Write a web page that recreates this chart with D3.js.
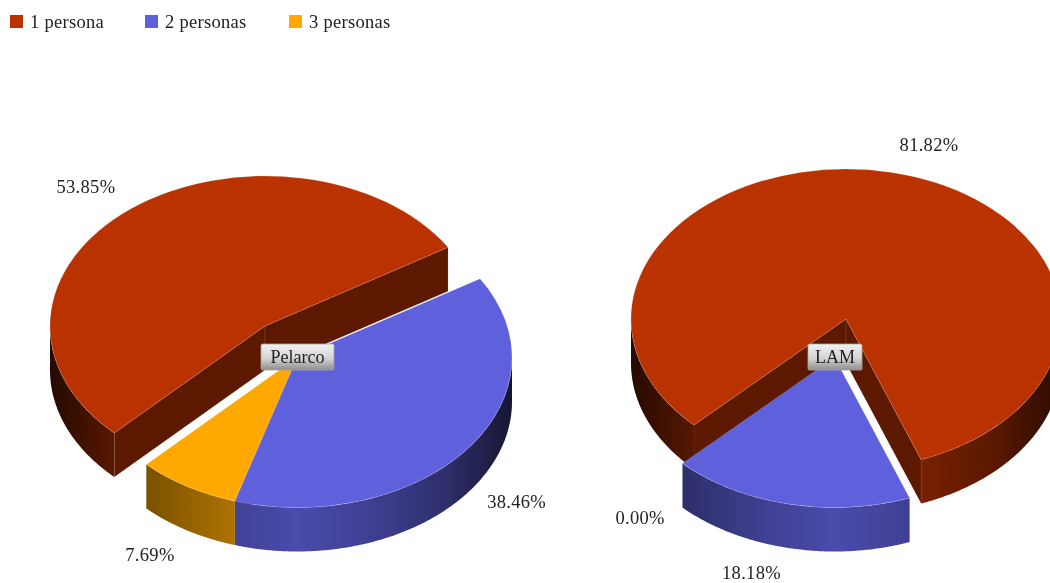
<!DOCTYPE html>
<html>
<head>
<meta charset="utf-8">
<script src="https://cdnjs.cloudflare.com/ajax/libs/d3/7.8.5/d3.min.js"></script>
<style>
html,body{margin:0;padding:0;background:#fff;overflow:hidden}
svg{display:block;filter:blur(0.35px)}
text{font-family:"Liberation Serif",serif;fill:#222}
</style>
</head>
<body>
<svg id="c" width="1050" height="583"></svg>
<script>
// data
const categories = ["1 persona", "2 personas", "3 personas"];
const pieNames = ["Pelarco", "LAM"];
const pelarcoValues = [53.85, 38.46, 7.69];
const lamValues = [81.82, 18.18, 0.00];
const colors = ["#b93200", "#5f60dc", "#ffa800"];

// layout
const W = 1050, H = 583, RX = 215, RY = 150, DEPTH = 44;
const pies = [
  {name: pieNames[0], values: pelarcoValues, start: -135.5, main: [265, 326], exploded: [297, 357.5], tagW: 73, tagX: 297.5},
  {name: pieNames[1], values: lamValues, start: -135, main: [846, 319], exploded: [834.5, 357.5], tagW: 54, tagX: 835}
];

const svg = d3.select("#c");
const defs = svg.append("defs");
const TAU = Math.PI * 2;

const topArc = d3.arc().innerRadius(0).outerRadius(RX);
const line = d3.line();

// ellipse coordinates from a clockwise-from-top angle
const px = (c, a) => c[0] + RX * Math.sin(a);
const py = (c, a) => c[1] - RY * Math.cos(a);

function shade(col, k) {
  const c = d3.rgb(col);
  return d3.rgb(c.r * k, c.g * k, c.b * k).formatHex();
}
const wallStops = [[0, .2], [.15, .48], [.35, .68], [.5, .78], [.65, .68], [.85, .48], [.97, .28], [1, .22]];

const tagGrad = defs.append("linearGradient").attr("id", "tagGrad").attr("x1", 0).attr("y1", 0).attr("x2", 0).attr("y2", 1);
tagGrad.append("stop").attr("offset", 0).attr("stop-color", "#f2f2f2");
tagGrad.append("stop").attr("offset", .55).attr("stop-color", "#d4d4d4");
tagGrad.append("stop").attr("offset", 1).attr("stop-color", "#8e8e8e");

pies.forEach((p, pi) => {
  const s0 = p.start * Math.PI / 180;
  const pieGen = d3.pie().sort(null).value(d => d).startAngle(s0).endAngle(s0 + TAU);
  const arcs = pieGen(p.values).map((d, i) => ({...d, i, c: i === 0 ? p.main : p.exploded}));
  const visible = arcs.filter(d => d.value > 0);
  const g = svg.append("g");

  // gradient for each colour, spanning the pie width
  arcs.forEach(d => {
    const gr = defs.append("linearGradient").attr("id", `w${pi}_${d.i}`)
      .attr("gradientUnits", "userSpaceOnUse")
      .attr("x1", d.c[0] - RX).attr("x2", d.c[0] + RX).attr("y1", 0).attr("y2", 0);
    wallStops.forEach(s => gr.append("stop").attr("offset", s[0]).attr("stop-color", shade(colors[d.i], s[1])));
  });

  // radial cut walls
  visible.forEach(d => {
    [[d.startAngle, Math.sin(d.startAngle) < 0], [d.endAngle, Math.sin(d.endAngle) > 0]].forEach(([a, show]) => {
      if (!show) return;
      g.append("path")
        .attr("d", line([d.c, [px(d.c, a), py(d.c, a)], [px(d.c, a), py(d.c, a) + DEPTH], [d.c[0], d.c[1] + DEPTH]]) + "Z")
        .attr("fill", shade(colors[d.i], .5))
        .attr("stroke", "rgba(255,255,255,.14)").attr("stroke-width", .7);
    });
  });

  // outer walls, only the front half of the rim
  visible.forEach(d => {
    [Math.PI / 2, Math.PI / 2 + TAU, Math.PI / 2 - TAU].forEach(lo => {
      const a0 = Math.max(d.startAngle, lo), a1 = Math.min(d.endAngle, lo + Math.PI);
      if (a1 <= a0) return;
      const n = Math.ceil((a1 - a0) / 0.01);
      const angs = d3.range(n + 1).map(k => a0 + (a1 - a0) * k / n);
      const pts = angs.map(a => [px(d.c, a), py(d.c, a)])
        .concat(angs.slice().reverse().map(a => [px(d.c, a), py(d.c, a) + DEPTH]));
      g.append("path").attr("d", line(pts) + "Z").attr("fill", `url(#w${pi}_${d.i})`);
    });
  });

  // top faces
  visible.forEach(d => {
    g.append("path")
      .attr("transform", `translate(${d.c[0]},${d.c[1]}) scale(1,${RY / RX})`)
      .attr("d", topArc(d))
      .attr("fill", colors[d.i])
      .attr("stroke", "rgba(255,255,255,.22)").attr("stroke-width", .7)
      .attr("vector-effect", "non-scaling-stroke");
  });

  // value labels
  arcs.forEach(d => {
    const mid = (d.startAngle + d.endAngle) / 2;
    const s = Math.sin(mid), c = -Math.cos(mid);
    const yr = Math.abs(c) >= .75 ? 178 : 165;
    g.append("text")
      .attr("x", d.c[0] + (RX + 25 + (Math.abs(s) < .3 ? 12 : 0)) * s)
      .attr("y", Math.min(d.c[1] + yr * c + (c > 0 ? DEPTH : 0) + 6, H - 4.5))
      .attr("text-anchor", s >= 0 ? "start" : "end")
      .attr("font-size", 18.5)
      .attr("letter-spacing", .3)
      .text(d.value.toFixed(2) + "%");
  });

  // pie name tag
  const tg = svg.append("g");
  tg.append("rect")
    .attr("x", p.tagX - p.tagW / 2).attr("y", 344).attr("width", p.tagW).attr("height", 26).attr("rx", 1.5)
    .attr("fill", "url(#tagGrad)").attr("stroke", "#a5a5a5").attr("stroke-width", .8);
  tg.append("text").attr("x", p.tagX).attr("y", 362.5).attr("text-anchor", "middle")
    .attr("font-size", 18).text(p.name);
});

// legend
const legendX = d3.scaleOrdinal().domain(categories).range([10, 145, 289]);
const lg = svg.append("g").selectAll("g").data(categories).join("g")
  .attr("transform", d => `translate(${legendX(d)},15)`);
lg.append("rect").attr("width", 13).attr("height", 13).attr("fill", (d, i) => colors[i]);
lg.append("text").attr("x", 20).attr("y", 12.5).attr("font-size", 18.5).attr("letter-spacing", .3).text(d => d);
</script>
</body>
</html>
